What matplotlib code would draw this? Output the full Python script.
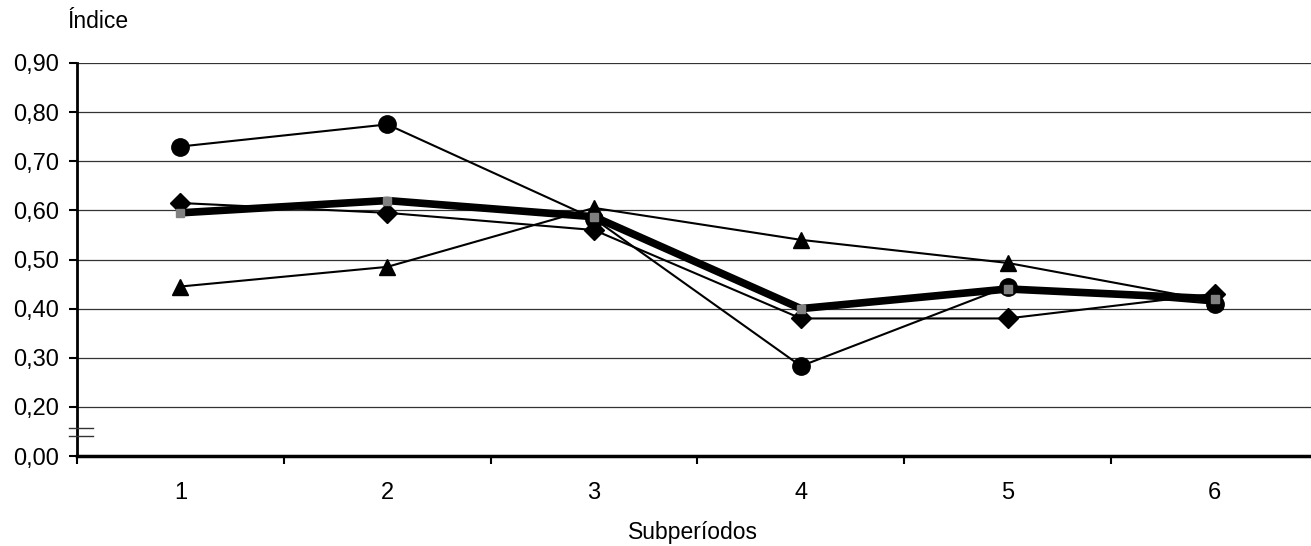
import numpy as np
import matplotlib.pyplot as plt
from matplotlib.ticker import FixedLocator, NullFormatter

plt.rcParams['font.family'] = ['Liberation Sans', 'DejaVu Sans']

subperiods = [1, 2, 3, 4, 5, 6]
circles = [0.73, 0.775, 0.583, 0.283, 0.445, 0.41]
diamonds = [0.615, 0.595, 0.56, 0.38, 0.38, 0.43]
triangles = [0.445, 0.485, 0.605, 0.54, 0.493, 0.415]
average = [0.595, 0.62, 0.587, 0.40, 0.44, 0.42]

y_ticks = [0.10, 0.20, 0.30, 0.40, 0.50, 0.60, 0.70, 0.80, 0.90]
y_labels = ['0,00', '0,20', '0,30', '0,40', '0,50', '0,60', '0,70', '0,80', '0,90']

fig = plt.figure(figsize=(13.11, 5.46), dpi=100)
ax = fig.add_axes([77 / 1311, 1 - 456 / 546, 1241 / 1311, 393 / 546])

# grid lines (no line at the broken bottom)
for v in y_ticks[1:]:
    ax.axhline(v, color='#333333', lw=0.9, zorder=1)

ax.plot(subperiods, circles, color='black', lw=1.5, marker='o', markersize=12.5, zorder=3)
ax.plot(subperiods, diamonds, color='black', lw=1.5, marker='D', markersize=10, zorder=3)
ax.plot(subperiods, triangles, color='black', lw=1.5, marker='^', markersize=11, zorder=3)
ax.plot(subperiods, average, color='black', lw=5.5, marker='s', markersize=6,
        markerfacecolor='#808080', markeredgecolor='#808080', zorder=4)

ax.set_xlim(0.5, 6.5)
ax.set_ylim(0.10, 0.90)
ax.set_yticks(y_ticks)
ax.set_yticklabels(y_labels)

ax.xaxis.set_major_locator(FixedLocator(np.arange(0.5, 7, 1)))
ax.xaxis.set_major_formatter(NullFormatter())
ax.xaxis.set_minor_locator(FixedLocator(subperiods))
ax.set_xticklabels([str(s) for s in subperiods], minor=True)
ax.tick_params(axis='x', which='major', direction='out', length=6, width=1.5)
ax.tick_params(axis='x', which='minor', length=0, pad=19, labelsize=17)
ax.tick_params(axis='y', direction='out', length=6, width=1.5, pad=7, labelsize=17)

for s in ['top', 'right']:
    ax.spines[s].set_visible(False)
ax.spines['left'].set_linewidth(2)
ax.spines['bottom'].set_linewidth(2.5)

# axis break marks
trans = ax.get_yaxis_transform()
for yb in (0.157, 0.141):
    ax.plot([-0.0065, 0.0125], [yb, yb], transform=trans, color='#333333', lw=1,
            clip_on=False, zorder=5)

fig.text(693 / 1311, 1 - 533 / 546, 'Subperíodos', fontsize=16.5, ha='center', va='center')
fig.text(67 / 1311, 1 - 22 / 546, 'Índice', fontsize=16.5, ha='left', va='center')

fig.savefig('out.png', dpi=100)
